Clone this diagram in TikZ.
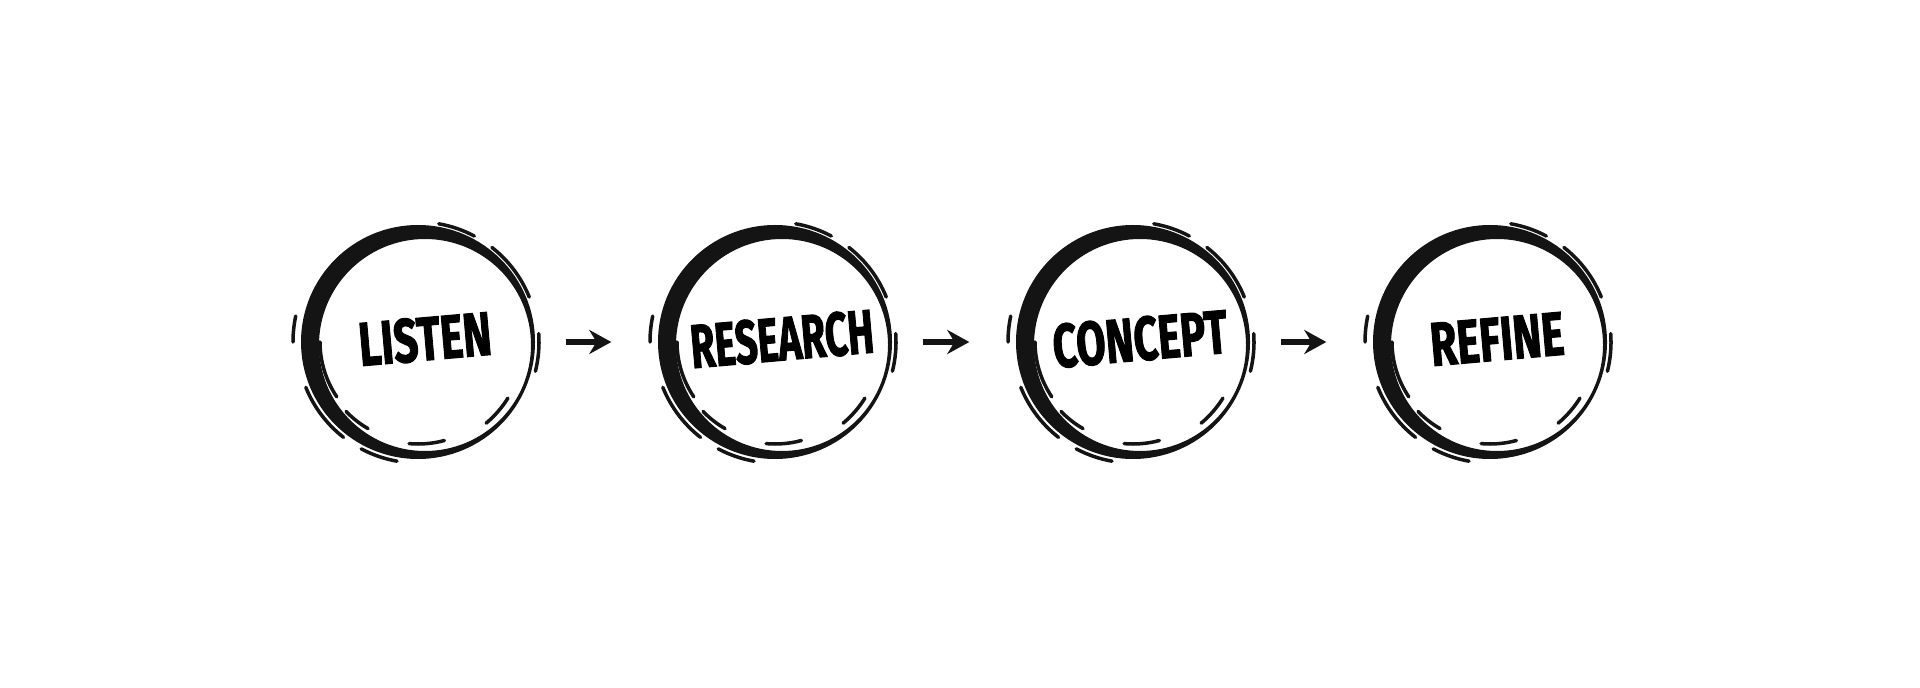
\documentclass[tikz,border=0pt]{standalone}
\usepackage{fontspec}
\usepackage{tikz}
\usepackage{xcolor}
\setmainfont{Fira Sans}
\newfontfamily\brushfont{Fira Sans}[BoldFeatures={FakeBold=2}]
\usetikzlibrary{calc,arrows.meta}
\colorlet{ink}{black!92}

\begin{document}
\begin{tikzpicture}
    % canvas
    \useasboundingbox (0,0) rectangle (19.2,6.87);

    % step circles
    \foreach \name/\x/\txt/\sx in {listen/4.18/LISTEN/0.7, research/7.75/RESEARCH/0.64, concept/11.33/CONCEPT/0.69, refine/14.90/REFINE/0.7} {
        \node[circle, minimum size=2.34cm, inner sep=0pt] (\name) at (\x,3.45) {};
        % thick brush ring (heavy on the left, thin on the right)
        \fill[ink, even odd rule] (\name.center) circle (1.17cm)
            ($(\name.center)+(0.07,-0.03)$) circle (1.06cm);
        % loose bristle strokes round the ring
        \foreach \a/\b/\r in {22/52/1.20, 62/80/1.20, -14/4/1.21, -50/-32/1.06, -95/-75/1.02,
                              -118/-100/1.21, 202/232/1.21, 180/214/0.98, 224/240/1.00, 168/180/1.25} {
            \draw[ink, line width=1pt, line cap=round]
                ($(\name.center)+(\a:\r)$) arc[start angle=\a, end angle=\b, radius=\r];
        }
        % word
        \node[font=\brushfont\bfseries\fontsize{17.5}{17.5}\selectfont, rotate=5, inner sep=0pt]
            (\name-word) at ($(\name.center)+(0.07,0.03)$) {\scalebox{\sx}[1]{\txt}};
    }

    % brush arrows between the steps
    \foreach \a/\b in {listen/research, research/concept, concept/refine} {
        \draw[ink, line width=0.055cm, shorten <=0.3cm, shorten >=0.46cm,
              -{Stealth[length=0.22cm, width=0.24cm]}]
            (\a) -- (\b);
    }
\end{tikzpicture}
\end{document}
